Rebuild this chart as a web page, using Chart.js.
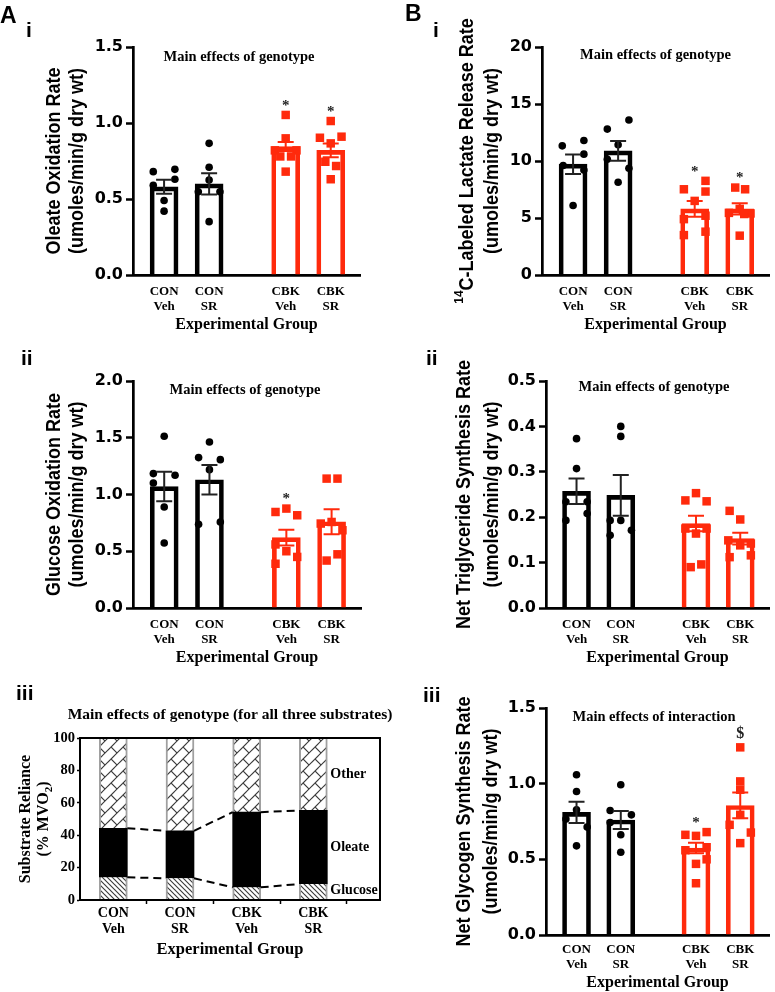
<!DOCTYPE html>
<html>
<head>
<meta charset="utf-8">
<script src="https://cdn.jsdelivr.net/npm/chart.js@4.4.1/dist/chart.umd.min.js"></script>
<style>
html,body{margin:0;padding:0;background:#fff;}
#wrap{position:relative;width:775px;height:992px;overflow:hidden;background:#fff;}
#wrap canvas{position:absolute;left:0;top:0;}
.lab{position:absolute;font-family:"Liberation Sans",Arial,sans-serif;font-weight:bold;color:#000;line-height:1;white-space:nowrap;}
</style>
</head>
<body>
<div id="wrap">
<canvas id="cAi" width="775" height="992"></canvas>
<canvas id="cAii" width="775" height="992"></canvas>
<canvas id="cAiii" width="775" height="992"></canvas>
<canvas id="cBi" width="775" height="992"></canvas>
<canvas id="cBii" width="775" height="992"></canvas>
<canvas id="cBiii" width="775" height="992"></canvas>
<div class="lab" style="left:0px;top:4px;font-size:23px">A</div>
<div class="lab" style="left:26px;top:19px;font-size:21px">i</div>
<div class="lab" style="left:21px;top:347px;font-size:21px">ii</div>
<div class="lab" style="left:16px;top:682px;font-size:21px">iii</div>
<div class="lab" style="left:405px;top:2px;font-size:23px">B</div>
<div class="lab" style="left:433px;top:19px;font-size:21px">i</div>
<div class="lab" style="left:426px;top:347px;font-size:21px">ii</div>
<div class="lab" style="left:423px;top:684px;font-size:21px">iii</div>
</div>
<script>
// ---------------- DATA ----------------
const categories = [['CON','Veh'],['CON','SR'],['CBK','Veh'],['CBK','SR']];

// A i  Oleate oxidation rate
const oleateOxMean = [0.58, 0.60, 0.845, 0.82];
const oleateOxSem  = [0.046, 0.07, 0.03, 0.045];
const oleateOxPts  = [
  [0.68, 0.695, 0.63, 0.59, 0.49, 0.42],
  [0.866, 0.709, 0.625, 0.548, 0.548, 0.351],
  [1.053, 0.899, 0.82, 0.82, 0.78, 0.78, 0.68],
  [1.013, 0.91, 0.903, 0.866, 0.745, 0.717, 0.63]];
const oleateOxMarks = ['', '', '*', '*'];

// A ii  Glucose oxidation rate
const glucoseOxMean = [1.07, 1.13, 0.62, 0.76];
const glucoseOxSem  = [0.13, 0.13, 0.07, 0.11];
const glucoseOxPts  = [
  [1.513, 1.184, 1.169, 1.101, 0.89, 0.573],
  [1.463, 1.325, 1.307, 1.219, 0.758, 0.737],
  [0.876, 0.846, 0.817, 0.56, 0.5, 0.45, 0.39],
  [1.14, 1.14, 0.758, 0.744, 0.685, 0.473, 0.418]];
const glucoseOxMarks = ['', '', '*', ''];

// A iii  Substrate reliance (% MVO2)
const glucoseShare = [14.0, 13.4, 7.8, 9.9];
const oleateShare  = [30.3, 29.3, 46.4, 45.4];
const otherShare   = [55.7, 57.3, 45.8, 44.7];
const substrateNames = ['Glucose', 'Oleate', 'Other'];

// B i  14C-labeled lactate release rate
const lactateMean = [9.72, 10.89, 5.8, 5.8];
const lactateSem  = [0.85, 0.87, 0.7, 0.5];
const lactatePts  = [
  [11.8, 11.33, 10.6, 9.6, 9.2, 6.1],
  [13.6, 12.8, 11.42, 10.16, 9.37, 8.14],
  [8.26, 7.52, 7.32, 6.5, 5.2, 4.9, 3.8, 3.5],
  [7.67, 7.52, 5.8, 5.45, 5.4, 5.35, 3.45]];
const lactateMarks = ['', '', '*', '*'];

// B ii  Net triglyceride synthesis rate
const tgMean = [0.257, 0.248, 0.186, 0.153];
const tgSem  = [0.028, 0.045, 0.017, 0.013];
const tgPts  = [
  [0.373, 0.307, 0.234, 0.234, 0.208, 0.193],
  [0.40, 0.378, 0.193, 0.193, 0.171, 0.16],
  [0.253, 0.237, 0.235, 0.175, 0.175, 0.164, 0.096, 0.09],
  [0.214, 0.195, 0.149, 0.142, 0.138, 0.116, 0.112]];
const tgMarks = ['', '', '', ''];

// B iii  Net glycogen synthesis rate
const glyMean = [0.81, 0.76, 0.575, 0.856];
const glySem  = [0.07, 0.06, 0.035, 0.085];
const glyPts  = [
  [1.059, 0.948, 0.827, 0.766, 0.713, 0.589],
  [0.993, 0.823, 0.794, 0.743, 0.662, 0.547],
  [0.68, 0.662, 0.655, 0.58, 0.56, 0.5, 0.47, 0.342],
  [1.24, 1.015, 0.96, 0.794, 0.728, 0.677, 0.607]];
const glyMarks = ['', '', '*', '$'];

// ---------------- LAYOUT (positions, not data) ----------------
const groupPos = [1, 2, 3.7, 4.7];
const X_MIN = 0.31, X_MAX = 5.35;
const oleateOxJit = [
  [-0.24, 0.24, 0.24, -0.24, 0, 0],
  [0, 0, 0, -0.24, 0.24, 0],
  [0, 0, -0.24, 0.24, -0.12, 0.12, 0],
  [0, 0.24, -0.24, 0, -0.12, 0.12, 0]];
const glucoseOxJit = [
  [0, -0.24, 0.24, -0.24, 0, 0],
  [0, -0.24, 0.24, 0, 0.24, -0.24],
  [0, -0.24, 0.24, -0.24, 0, 0.24, -0.24],
  [-0.11, 0.13, 0, -0.24, 0.24, 0.13, -0.11]];
const lactateJit = [
  [0.24, -0.24, 0.24, -0.22, 0.24, 0],
  [0.24, -0.24, 0, -0.24, 0.24, 0],
  [0.24, -0.24, 0.24, 0, 0.24, -0.24, 0.24, -0.24],
  [-0.1, 0.12, 0, -0.24, 0.24, 0.1, 0]];
const tgJit = [
  [0, 0, -0.24, 0.24, 0.24, -0.24],
  [0, 0, -0.24, 0, 0.24, -0.24],
  [0, -0.24, 0.24, -0.24, 0.24, 0, 0.12, -0.12],
  [-0.24, 0, -0.27, 0.24, 0, 0.24, -0.24]];
const glyJit = [
  [0, 0, 0, -0.24, 0.24, 0],
  [0, -0.24, 0.24, -0.24, 0, 0],
  [0.24, -0.24, 0, 0.24, -0.24, 0.24, 0, 0],
  [0, 0, 0, 0, -0.24, 0.24, 0]];

const FS = '"Liberation Sans", Arial, Helvetica, sans-serif';
const FT = '"Liberation Serif", "Times New Roman", Times, serif';
const FD = '"DejaVu Sans", "Liberation Sans", sans-serif';
const BLACK = '#000000', RED = '#ff2a0c';
const groupColors = [BLACK, BLACK, RED, RED];

Chart.defaults.animation = false;
Chart.defaults.color = '#000';

function drawRotTitle(chart, T) {
  const ctx = chart.ctx, ca = chart.chartArea;
  const cy = (ca.top + ca.bottom) / 2;
  T.lines.forEach((line, i) => {
    const segs = Array.isArray(line) ? line : [{t: line}];
    ctx.save();
    ctx.translate(T.xs[i], cy);
    ctx.rotate(-Math.PI / 2);
    ctx.scale(1, T.stretch || 1);
    ctx.fillStyle = '#000';
    ctx.textBaseline = 'middle';
    ctx.textAlign = 'left';
    const fontOf = s => (s.sup || s.sub) ? T.small : T.font;
    let w = 0;
    segs.forEach(s => { ctx.font = fontOf(s); w += ctx.measureText(s.t).width; });
    let x = -w / 2;
    segs.forEach(s => {
      ctx.font = fontOf(s);
      const dy = s.sup ? -T.shift : (s.sub ? T.shift : 0);
      ctx.fillText(s.t, x, dy);
      x += ctx.measureText(s.t).width;
    });
    ctx.restore();
  });
}

function barPanel(id, P) {
  const pts = [], pc = [], ps = [], pr = [];
  P.pts.forEach((arr, g) => arr.forEach((v, k) => {
    pts.push({x: groupPos[g] + P.jit[g][k], y: v});
    pc.push(groupColors[g]);
    ps.push(g < 2 ? 'circle' : 'rect');
    pr.push(g < 2 ? 3.8 : 6);
  }));
  const annot = {
    id: 'annot_' + id,
    afterDatasetsDraw(chart) {
      const {ctx, chartArea: ca} = chart;
      const xs = chart.scales.x, ys = chart.scales.y;
      ctx.save();
      // error bars (mean ± SEM)
      P.mean.forEach((m, i) => {
        const cx = xs.getPixelForValue(groupPos[i]);
        const yt = ys.getPixelForValue(m + P.sem[i]);
        const yb = ys.getPixelForValue(m - P.sem[i]);
        ctx.strokeStyle = i < 2 ? '#222' : RED;
        ctx.lineWidth = 2;
        ctx.beginPath();
        ctx.moveTo(cx, yt); ctx.lineTo(cx, yb);
        ctx.moveTo(cx - 8, yt); ctx.lineTo(cx + 8, yt);
        ctx.moveTo(cx - 8, yb); ctx.lineTo(cx + 8, yb);
        ctx.stroke();
      });
      // significance marks
      ctx.fillStyle = '#222';
      ctx.textAlign = 'center';
      ctx.textBaseline = 'middle';
      P.marks.forEach((mk, i) => {
        if (!mk) return;
        const top = ys.getPixelForValue(Math.max(...P.pts[i]));
        const cx = xs.getPixelForValue(groupPos[i]);
        if (mk === '*') { ctx.font = 'bold 15px ' + FT; ctx.fillText(mk, cx, top - 9); }
        else { ctx.font = 'bold 16px ' + FT; ctx.fillText(mk, cx, top - 13); }
      });
      // subtitle
      ctx.fillStyle = '#000';
      ctx.font = 'bold 14.5px ' + FT;
      ctx.fillText(P.sub, (ca.left + ca.right) / 2 + P.subDx, ca.top + P.subDy);
      ctx.restore();
    },
    afterDraw(chart) {
      drawRotTitle(chart, {lines: P.yTitle, xs: P.titleXs, font: 'bold 18px ' + FS,
        small: 'bold 12px ' + FS, shift: 7, stretch: 1.14});
    }
  };
  return new Chart(document.getElementById(id), {
    type: 'bar',
    data: {
      datasets: [
        {type: 'bar', data: P.mean.map((m, i) => ({x: groupPos[i], y: m})),
         backgroundColor: 'rgba(255,255,255,0)', borderColor: groupColors, borderWidth: 4,
         barThickness: 28, borderSkipped: 'bottom', order: 2},
        {type: 'line', data: pts, showLine: false, pointStyle: ps, pointRadius: pr,
         pointBackgroundColor: pc, pointBorderColor: pc, pointBorderWidth: 0, order: 1, clip: false}
      ]
    },
    options: {
      responsive: false, animation: false, devicePixelRatio: 1,
      layout: {padding: {left: 0, top: P.area.t, right: 775 - P.area.r, bottom: 992 - P.area.b - P.xH}},
      plugins: {legend: {display: false}, tooltip: {enabled: false}},
      scales: {
        x: {
          type: 'linear', min: X_MIN, max: X_MAX, offset: false,
          afterBuildTicks: s => { s.ticks = groupPos.map(v => ({value: v})); },
          afterFit: s => { s.height = P.xH; },
          ticks: {autoSkip: false, maxRotation: 0, minRotation: 0, padding: P.tickPad, color: '#000',
                  font: {family: FT, weight: 'bold', size: 13, lineHeight: '15px'},
                  callback: (v, i) => categories[i]},
          grid: {display: false, drawTicks: false},
          border: {display: true, color: '#000', width: 2.7},
          title: {display: true, text: 'Experimental Group', color: '#000',
                  font: {family: FT, weight: 'bold', size: 16, lineHeight: '19px'}, padding: 0}
        },
        y: {
          min: 0, max: P.yMax,
          afterFit: s => { s.width = P.area.l; },
          ticks: {stepSize: P.yStep, padding: 3, color: '#000',
                  font: {family: FD, weight: 'bold', size: 16}, callback: v => Number(v).toFixed(P.dec)},
          grid: {display: true, drawOnChartArea: false, drawTicks: true, tickLength: 7,
                 tickWidth: 2.5, tickColor: '#000', color: '#000'},
          border: {display: true, color: '#000', width: 2.7}
        }
      }
    },
    plugins: [annot]
  });
}

const molLine = '(umoles/min/g dry wt)';

barPanel('cAi', {area: {l: 133, t: 47, r: 360, b: 275}, xH: 59.5, tickPad: 9,
  yMax: 1.5, yStep: 0.5, dec: 1, mean: oleateOxMean, sem: oleateOxSem, pts: oleateOxPts,
  jit: oleateOxJit, marks: oleateOxMarks, sub: 'Main effects of genotype', subDx: -7.5, subDy: 10,
  yTitle: ['Oleate Oxidation Rate', molLine], titleXs: [54, 77]});

barPanel('cAii', {area: {l: 133, t: 381, r: 361, b: 608}, xH: 59.5, tickPad: 9,
  yMax: 2.0, yStep: 0.5, dec: 1, mean: glucoseOxMean, sem: glucoseOxSem, pts: glucoseOxPts,
  jit: glucoseOxJit, marks: glucoseOxMarks, sub: 'Main effects of genotype', subDx: -2, subDy: 9,
  yTitle: ['Glucose Oxidation Rate', molLine], titleXs: [54, 77]});

barPanel('cBi', {area: {l: 542, t: 47, r: 770, b: 275}, xH: 59.5, tickPad: 9,
  yMax: 20, yStep: 5, dec: 0, mean: lactateMean, sem: lactateSem, pts: lactatePts,
  jit: lactateJit, marks: lactateMarks, sub: 'Main effects of genotype', subDx: 0, subDy: 8.5,
  yTitle: [[{t: '14', sup: true}, {t: 'C-Labeled Lactate Release Rate'}], molLine], titleXs: [467, 492]});

barPanel('cBii', {area: {l: 546, t: 381, r: 773, b: 608}, xH: 59.5, tickPad: 9,
  yMax: 0.5, yStep: 0.1, dec: 1, mean: tgMean, sem: tgSem, pts: tgPts,
  jit: tgJit, marks: tgMarks, sub: 'Main effects of genotype', subDx: -3.5, subDy: 6,
  yTitle: ['Net Triglyceride Synthesis Rate', molLine], titleXs: [464, 492]});

barPanel('cBiii', {area: {l: 546, t: 708, r: 773, b: 935}, xH: 57, tickPad: 7,
  yMax: 1.5, yStep: 0.5, dec: 1, mean: glyMean, sem: glySem, pts: glyPts,
  jit: glyJit, marks: glyMarks, sub: 'Main effects of interaction', subDx: -3.5, subDy: 9,
  yTitle: ['Net Glycogen Synthesis Rate', molLine], titleXs: [464, 491]});

// ---------- A iii stacked substrate chart ----------
function makePattern(kind) {
  const c = document.createElement('canvas');
  const s = kind === 'glucose' ? 5 : 12;
  c.width = s; c.height = s;
  const g = c.getContext('2d');
  g.fillStyle = '#fff'; g.fillRect(0, 0, s, s);
  g.strokeStyle = '#3a3a3a'; g.lineWidth = 1.1; g.lineCap = 'square';
  g.beginPath();
  if (kind === 'glucose') {
    for (let o = -s; o <= s; o += s) { g.moveTo(o, 0); g.lineTo(o + s, s); }
  } else {
    // diagonal brick: "/" lines plus short "\" connectors
    for (let a = s / 2; a <= 2 * s; a += s) { g.moveTo(a, 0); g.lineTo(0, a); }
    g.moveTo(s / 4, s / 4); g.lineTo(3 * s / 4, 3 * s / 4);
  }
  g.stroke();
  return g.createPattern(c, 'repeat');
}

(function () {
  const cvs = document.getElementById('cAiii');
  const area = {l: 80, t: 738, r: 380, b: 900}, xH = 59.5;
  const halfTicks = [1, 1.5, 2, 2.5, 3, 3.5, 4, 4.5];
  const edge = {left: 2, right: 2, top: 0, bottom: 0};
  const annot = {
    id: 'annotAiii',
    afterDatasetsDraw(chart) {
      const {ctx, chartArea: ca} = chart;
      ctx.save();
      // dashed connectors between the tops of glucose and oleate segments
      ctx.strokeStyle = '#000'; ctx.lineWidth = 2; ctx.setLineDash([8, 5]);
      [0, 1].forEach(di => {
        const els = chart.getDatasetMeta(di).data;
        for (let i = 0; i < els.length - 1; i++) {
          const a = els[i].getProps(['x', 'y', 'width'], true);
          const b = els[i + 1].getProps(['x', 'y', 'width'], true);
          ctx.beginPath();
          ctx.moveTo(a.x + a.width / 2, a.y);
          ctx.lineTo(b.x - b.width / 2, b.y);
          ctx.stroke();
        }
      });
      ctx.setLineDash([]);
      // frame
      ctx.lineWidth = 2;
      ctx.strokeRect(ca.left, ca.top, ca.right - ca.left, ca.bottom - ca.top);
      // segment labels beside the last bar
      ctx.fillStyle = '#000'; ctx.font = 'bold 14px ' + FT;
      ctx.textAlign = 'left'; ctx.textBaseline = 'middle';
      [0, 1, 2].forEach(di => {
        const els = chart.getDatasetMeta(di).data;
        const e = els[els.length - 1].getProps(['x', 'y', 'base', 'width'], true);
        ctx.fillText(substrateNames[di], e.x + e.width / 2 + 3, (e.y + e.base) / 2 + (di === 0 ? -1 : 0));
      });
      // subtitle
      ctx.font = 'bold 15.5px ' + FT; ctx.textAlign = 'center';
      ctx.fillText('Main effects of genotype (for all three substrates)', (ca.left + ca.right) / 2, ca.top - 23);
      ctx.restore();
    },
    afterDraw(chart) {
      drawRotTitle(chart, {lines: ['Substrate Reliance', [{t: '(% MVO'}, {t: '2', sub: true}, {t: ')'}]],
        xs: [26, 44], font: 'bold 16px ' + FT, small: 'bold 11px ' + FT, shift: 5, stretch: 1});
    }
  };
  new Chart(cvs, {
    type: 'bar',
    data: {
      datasets: [
        {label: 'Glucose', data: glucoseShare.map((v, i) => ({x: i + 1, y: v})),
         backgroundColor: makePattern('glucose'), borderColor: '#a0a0a0', borderWidth: edge, barThickness: 28},
        {label: 'Oleate', data: oleateShare.map((v, i) => ({x: i + 1, y: v})),
         backgroundColor: '#000', borderColor: '#000', borderWidth: 0, barThickness: 28},
        {label: 'Other', data: otherShare.map((v, i) => ({x: i + 1, y: v})),
         backgroundColor: makePattern('other'), borderColor: '#a0a0a0', borderWidth: edge, barThickness: 28}
      ]
    },
    options: {
      responsive: false, animation: false, devicePixelRatio: 1,
      layout: {padding: {left: 0, top: area.t, right: 775 - area.r, bottom: 992 - area.b - xH}},
      plugins: {legend: {display: false}, tooltip: {enabled: false}},
      scales: {
        x: {
          type: 'linear', stacked: true, min: 0.5, max: 5, offset: false,
          afterBuildTicks: s => { s.ticks = halfTicks.map(v => ({value: v})); },
          afterFit: s => { s.height = xH; },
          ticks: {autoSkip: false, maxRotation: 0, minRotation: 0, padding: 1, color: '#000',
                  font: {family: FT, weight: 'bold', size: 14, lineHeight: '16px'},
                  callback: v => Number.isInteger(v) ? categories[v - 1] : ''},
          grid: {display: true, drawOnChartArea: false, drawTicks: true, tickLength: 4, tickWidth: 1.5,
                 offset: false,
                 tickColor: c => (c.tick && !Number.isInteger(c.tick.value)) ? '#000' : 'rgba(0,0,0,0)'},
          border: {display: true, color: '#000', width: 2},
          title: {display: true, text: 'Experimental Group', color: '#000',
                  font: {family: FT, weight: 'bold', size: 16.5, lineHeight: '19px'}, padding: 0}
        },
        y: {
          stacked: true, min: 0, max: 100,
          afterFit: s => { s.width = area.l; },
          ticks: {stepSize: 20, padding: 2, color: '#000', font: {family: FT, weight: 'bold', size: 14.5}},
          grid: {display: true, drawOnChartArea: false, drawTicks: true, tickLength: 3, tickWidth: 1.5,
                 tickColor: '#000'},
          border: {display: true, color: '#000', width: 2}
        }
      }
    },
    plugins: [annot]
  });
})();
</script>
</body>
</html>
